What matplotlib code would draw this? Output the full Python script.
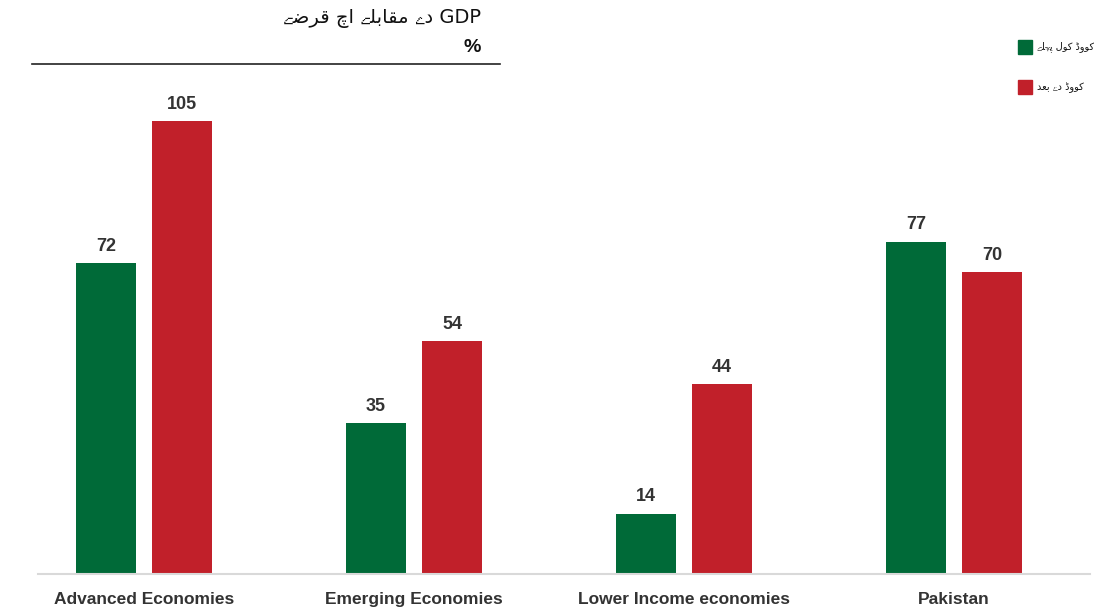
import matplotlib
matplotlib.use("Agg")
import matplotlib.pyplot as plt
from matplotlib import font_manager as fm
from matplotlib.ft2font import FT2Font
import numpy as np

# ---------------- data ----------------
categories = ["Advanced Economies", "Emerging Economies", "Lower Income economies", "Pakistan"]
before_covid = [72, 35, 14, 77]
after_covid = [105, 54, 44, 70]
series_names = ["کووڈ کول پہلے", "کووڈ دے بعد"]
title_text = "GDP دے مقابلے اچ قرضے"
unit_text = "%"

GREEN = "#006a38"
RED = "#c1202a"
TXT = "#333333"

# ---------------- fonts that can draw the Urdu letters ----------------
need = "\u06D2\u06C1"
found = []
seen = set()
for fe in fm.fontManager.ttflist:
    if fe.name in seen:
        continue
    try:
        f = FT2Font(fe.fname)
        if all(f.get_char_index(ord(c)) != 0 for c in need):
            found.append(fe.name)
            seen.add(fe.name)
    except Exception:
        pass
URDU_FAMS = ["DejaVu Sans"] + found
_fonts = []
for nm in URDU_FAMS:
    try:
        _fonts.append(FT2Font(fm.findfont(fm.FontProperties(family=nm), fallback_to_default=False)))
    except Exception:
        pass


def has_glyph(c):
    for f in _fonts:
        try:
            if f.get_char_index(ord(c)) != 0:
                return True
        except Exception:
            pass
    return False


# ---------------- simple Arabic-script shaping ----------------
FORMS = {  # iso, fin, ini, med (None for right-joining)
    "\u0627": ("\uFE8D", "\uFE8E", None, None),
    "\u0628": ("\uFE8F", "\uFE90", "\uFE91", "\uFE92"),
    "\u062F": ("\uFEA9", "\uFEAA", None, None),
    "\u0631": ("\uFEAD", "\uFEAE", None, None),
    "\u0636": ("\uFEBD", "\uFEBE", "\uFEBF", "\uFEC0"),
    "\u0639": ("\uFEC9", "\uFECA", "\uFECB", "\uFECC"),
    "\u0642": ("\uFED5", "\uFED6", "\uFED7", "\uFED8"),
    "\u06A9": ("\uFB8E", "\uFB8F", "\uFB90", "\uFB91"),
    "\u0644": ("\uFEDD", "\uFEDE", "\uFEDF", "\uFEE0"),
    "\u0645": ("\uFEE1", "\uFEE2", "\uFEE3", "\uFEE4"),
    "\u0648": ("\uFEED", "\uFEEE", None, None),
    "\u067E": ("\uFB56", "\uFB57", "\uFB58", "\uFB59"),
    "\u0686": ("\uFB7A", "\uFB7B", "\uFB7C", "\uFB7D"),
    "\u0688": ("\uFB88", "\uFB89", None, None),
    "\u06C1": ("\uFBA6", "\uFBA7", "\uFBA8", "\uFBA9"),
    "\u06D2": ("\uFBAE", "\uFBAF", None, None),
    "\u06CC": ("\uFBFC", "\uFBFD", "\uFBFE", "\uFBFF"),
}


def pick(form, base):
    return form if (form is not None and has_glyph(form)) else base


def shape_word(w):
    out = []
    n = len(w)
    for i, ch in enumerate(w):
        f = FORMS.get(ch)
        if f is None:
            out.append(ch)
            continue
        prev = w[i - 1] if i > 0 else None
        nxt = w[i + 1] if i < n - 1 else None
        jp = prev is not None and prev in FORMS and FORMS[prev][2] is not None
        jn = nxt is not None and nxt in FORMS and f[2] is not None
        if jp and jn:
            g = f[3]
        elif jp:
            g = f[1]
        elif jn:
            g = f[2]
        else:
            g = f[0]
        out.append(pick(g, pick(f[0], ch)))
    return "".join(out)


def visual(s):
    toks = s.split(" ")
    res = []
    for t in toks:
        if any(c in FORMS for c in t):
            res.append(shape_word(t)[::-1])
        else:
            res.append(t)
    return " ".join(res[::-1])


avail = {f.name for f in fm.fontManager.ttflist}
lat = "Liberation Sans Narrow" if "Liberation Sans Narrow" in avail else "Liberation Sans"
plt.rcParams["font.family"] = [lat, "DejaVu Sans"]

# ---------------- figure ----------------
fig = plt.figure(figsize=(10.94, 6.09), dpi=100)
W, H = 1094, 609
ax_left, ax_right, ax_bottom, ax_top = 38, 1090, 574, 80
ax = fig.add_axes([ax_left / W, 1 - ax_bottom / H, (ax_right - ax_left) / W, (ax_bottom - ax_top) / H])

x = np.arange(len(categories))
bw = 0.222
off = 0.141
b1 = ax.bar(x - off, before_covid, bw, color=GREEN, zorder=2)
b2 = ax.bar(x + off, after_covid, bw, color=RED, zorder=2)

for bars, vals in ((b1, before_covid), (b2, after_covid)):
    for r, v in zip(bars, vals):
        ax.annotate(f"{v}", (r.get_x() + r.get_width() / 2, v), xytext=(0, 6),
                    textcoords="offset points", ha="center", va="bottom",
                    fontsize=13, fontweight="bold", color=TXT)

ax.set_xlim(-0.393, 3.504)
ax.set_ylim(0, (ax_bottom - ax_top) / (453 / 105))
ax.set_yticks([])
ax.set_xticks(x)
ax.set_xticklabels(categories, fontsize=12.5, fontweight="bold", color=TXT)
ax.tick_params(axis="x", length=0, pad=13)
for s in ("top", "right", "left"):
    ax.spines[s].set_visible(False)
ax.spines["bottom"].set_color("#d9d9d9")
ax.spines["bottom"].set_linewidth(1.5)

# ---------------- title ----------------
fig.text(481 / W, 1 - 19 / H, visual(title_text), ha="right", va="center",
         fontsize=14, color="#111111", family=URDU_FAMS)
fig.text(481 / W, 1 - 48 / H, unit_text, ha="right", va="center",
         fontsize=14, fontweight="bold", color="#111111")
fig.add_artist(plt.Line2D([32 / W, 500 / W], [1 - 64 / H, 1 - 64 / H], color="#222222", lw=1.2))

# ---------------- legend ----------------
for i, (name, col) in enumerate(zip(series_names, (GREEN, RED))):
    yc = 47 + 40 * i
    fig.add_artist(plt.Rectangle((1018 / W, 1 - (yc + 7) / H), 14 / W, 14 / H, color=col,
                                 transform=fig.transFigure))
    fig.text(1037 / W, 1 - yc / H, visual(name), ha="left", va="center",
             fontsize=7, color="#111111", family=URDU_FAMS)

fig.savefig("out.png", dpi=100)
